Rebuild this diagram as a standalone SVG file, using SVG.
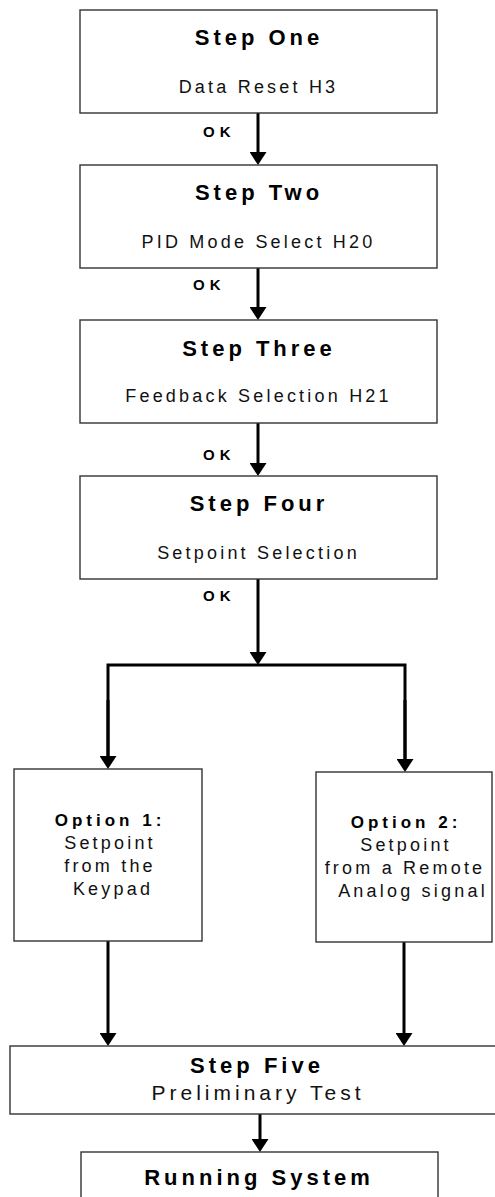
<svg xmlns="http://www.w3.org/2000/svg" width="495" height="1197" viewBox="0 0 495 1197">
<style>
.box{fill:#fff;stroke:#333;stroke-width:1.4}
.t{font-family:"Liberation Sans",Arial,sans-serif;font-weight:bold;font-size:22px;letter-spacing:4px;text-anchor:middle;fill:#000}
.s{font-family:"Liberation Sans",Arial,sans-serif;font-size:18px;letter-spacing:3.2px;text-anchor:middle;fill:#111}
.ot{font-family:"Liberation Sans",Arial,sans-serif;font-weight:bold;font-size:17px;letter-spacing:4px;text-anchor:middle;fill:#000}
.ok{font-family:"Liberation Sans",Arial,sans-serif;font-weight:bold;font-size:15px;letter-spacing:5px;fill:#000}
.c{fill:none;stroke:#000;stroke-width:3}
.a{marker-end:url(#ah)}
</style>
<defs>
<marker id="ah" markerUnits="userSpaceOnUse" markerWidth="13" markerHeight="17" viewBox="0 0 13 17" refX="0" refY="8.5" orient="auto">
<path d="M0,0 L13,8.5 L0,17 z" fill="#000"/>
</marker>
</defs>
<rect width="495" height="1197" fill="#fff"/>
<g id="connectors">
<line class="c a" x1="258" y1="113" x2="258" y2="152"/>
<line class="c a" x1="258" y1="268" x2="258" y2="307"/>
<line class="c a" x1="258" y1="423" x2="258" y2="463"/>
<line class="c a" x1="258" y1="579" x2="258" y2="652"/>
<polyline class="c" points="108,756 108,665 405,665 405,759"/>
<line class="c a" x1="108" y1="700" x2="108" y2="756"/>
<line class="c a" x1="405" y1="700" x2="405" y2="759"/>
<line class="c a" x1="108" y1="941" x2="108" y2="1033"/>
<line class="c a" x1="404" y1="942" x2="404" y2="1033"/>
<line class="c a" x1="260" y1="1114" x2="260" y2="1139"/>
<text class="ok" x="203" y="137">OK</text>
<text class="ok" x="193" y="290">OK</text>
<text class="ok" x="203" y="460">OK</text>
<text class="ok" x="203" y="601">OK</text>
</g>
<g id="step1">
<rect class="box" x="80" y="10" width="357" height="103"/>
<text class="t" x="259" y="45">Step One</text>
<text class="s" x="258.5" y="92.5">Data Reset H3</text>
</g>
<g id="step2">
<rect class="box" x="80" y="165" width="357" height="103"/>
<text class="t" x="259" y="200">Step Two</text>
<text class="s" x="258.5" y="248">PID Mode Select H20</text>
</g>
<g id="step3">
<rect class="box" x="80" y="320" width="357" height="103"/>
<text class="t" x="259" y="356">Step Three</text>
<text class="s" x="258.5" y="402">Feedback Selection H21</text>
</g>
<g id="step4">
<rect class="box" x="80" y="476" width="357" height="103"/>
<text class="t" x="259" y="511">Step Four</text>
<text class="s" x="258.5" y="559">Setpoint Selection</text>
</g>
<g id="option1">
<rect class="box" x="14" y="769" width="188" height="172"/>
<text class="ot" x="110" y="826">Option 1:</text>
<text class="s" x="110" y="849">Setpoint</text>
<text class="s" x="110" y="872">from the</text>
<text class="s" x="113" y="895">Keypad</text>
</g>
<g id="option2">
<rect class="box" x="316" y="772" width="176" height="170"/>
<text class="ot" x="406" y="828">Option 2:</text>
<text class="s" x="406" y="851">Setpoint</text>
<text class="s" x="405" y="874">from a Remote</text>
<text class="s" x="413" y="897">Analog signal</text>
</g>
<g id="step5">
<rect class="box" x="10" y="1046" width="500" height="68"/>
<text class="t" x="257" y="1073">Step Five</text>
<text class="s" x="258" y="1100" style="font-size:21px;letter-spacing:4px">Preliminary Test</text>
</g>
<g id="running">
<rect class="box" x="81" y="1152" width="357" height="60"/>
<text class="t" x="259" y="1185">Running System</text>
</g>
</svg>
